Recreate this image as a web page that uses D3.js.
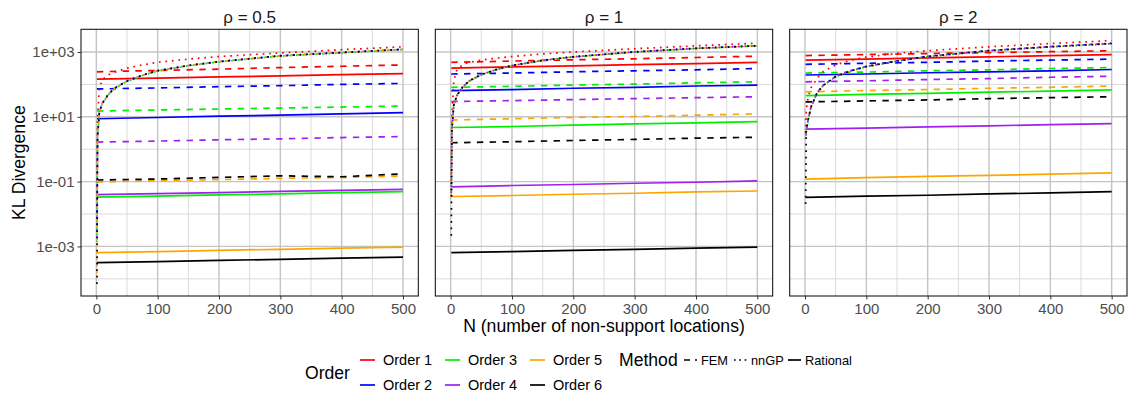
<!DOCTYPE html>
<html>
<head>
<meta charset="utf-8">
<script src="https://cdn.jsdelivr.net/npm/d3@7"></script>
<style>
  body { margin: 0; background: #fff; }
  text { font-family: "Liberation Sans", Arial, sans-serif; }
</style>
</head>
<body>
<div id="chart"></div>
<script>
// ---- data ----
const rhoLabels = ["ρ = 0.5", "ρ = 1", "ρ = 2"];
const orderNames = ["Order 1", "Order 2", "Order 3", "Order 4", "Order 5", "Order 6"];
const methodNames = ["FEM", "nnGP", "Rational"];
const orderColors = ["#ff0000", "#0000ff", "#00ee00", "#a020f0", "#ffa500", "#000000"];
const xTicks = [0, 100, 200, 300, 400, 500];
const yTicks = [1e-3, 1e-1, 1e1, 1e3];
const yTickLabels = ["1e-03", "1e-01", "1e+01", "1e+03"];

// N values used by the (nearly flat) FEM / Rational curves and by nnGP
const nFlat = [1, 100, 200, 300, 400, 500];
const nNngp = [1, 2, 5, 10, 20, 30, 50, 75, 100, 150, 200, 300, 400, 500];

// rho = 0.5  (one row per order)
const rationalRho05 = [
  [145, 155, 170, 182, 200, 214],
  [8.7, 9.5, 10.5, 11.2, 12.3, 13.5],
  [0.0331, 0.0355, 0.0389, 0.0417, 0.0457, 0.0490],
  [0.0398, 0.0427, 0.0457, 0.0501, 0.0537, 0.0575],
  [6.46e-4, 6.92e-4, 7.59e-4, 8.13e-4, 8.91e-4, 9.55e-4],
  [3.16e-4, 3.39e-4, 3.72e-4, 3.98e-4, 4.37e-4, 4.68e-4]
];
const femRho05 = [
  [245, 269, 295, 331, 363, 398],
  [72.4, 77.6, 85.1, 91.2, 100, 107],
  [15.1, 16.2, 17.4, 18.6, 20.0, 21.4],
  [1.66, 1.78, 1.95, 2.09, 2.29, 2.45],
  [0.0977, 0.107, 0.115, 0.126, 0.135, 0.148],
  [0.112, 0.120, 0.135, 0.151, 0.141, 0.174]
];
const nngpRho05 = [
  [1.0e-2, 10, 79, 141, 200, 240, 316, 398, 479, 603, 724, 933, 1175, 1445],
  [2.0e-3, 2.6, 14.4, 26.8, 51.0, 77.2, 128, 194, 267, 385, 508, 768, 966, 1215],
  [1.0e-3, 2.45, 13.9, 25.9, 49.4, 74.8, 124, 188, 259, 375, 494, 750, 944, 1190],
  [5.0e-3, 2.55, 14.2, 26.5, 50.5, 76.5, 127, 192, 265, 383, 505, 764, 960, 1208],
  [1.3e-4, 2.48, 14.0, 26.1, 49.8, 75.3, 125, 190, 261, 378, 498, 755, 950, 1196],
  [6.5e-5, 2.51, 14.1, 26.3, 50.1, 75.9, 126, 191, 263, 380, 501, 759, 955, 1202]
];

// rho = 1
const rationalRho1 = [
  [316, 347, 372, 407, 437, 479],
  [64.6, 69.2, 75.9, 81.3, 89.1, 95.5],
  [4.68, 5.01, 5.50, 6.03, 6.46, 7.08],
  [0.0692, 0.0759, 0.0813, 0.0891, 0.0955, 0.105],
  [0.0347, 0.0372, 0.0407, 0.0437, 0.0479, 0.0513],
  [6.46e-4, 6.92e-4, 7.59e-4, 8.13e-4, 8.91e-4, 9.55e-4]
];
const femRho1 = [
  [479, 525, 575, 617, 676, 741],
  [209, 224, 245, 263, 282, 309],
  [81.3, 87.1, 95.5, 102, 112, 120],
  [29.5, 31.6, 33.9, 36.3, 38.9, 41.7],
  [7.94, 8.71, 9.55, 10.2, 11.2, 12.3],
  [1.58, 1.70, 1.86, 2.00, 2.19, 2.34]
];
const nngpRho1 = [
  [0.1, 10, 126, 282, 417, 479, 562, 646, 724, 871, 1000, 1259, 1549, 1862],
  [0.036, 4.05, 22.8, 45.4, 86.3, 128, 203, 292, 385, 557, 716, 1012, 1302, 1565],
  [0.034, 3.90, 22.0, 44.0, 83.9, 124, 197, 284, 375, 543, 700, 988, 1274, 1532],
  [0.035, 4.02, 22.6, 45.1, 85.8, 127, 202, 290, 383, 554, 712, 1006, 1296, 1558],
  [0.033, 3.94, 22.2, 44.3, 84.4, 125, 198, 286, 377, 546, 704, 994, 1280, 1540],
  [2.0e-3, 3.98, 22.4, 44.7, 85.1, 126, 200, 288, 380, 550, 708, 1000, 1288, 1549]
];

// rho = 2
const rationalRho2 = [
  [562, 603, 661, 708, 776, 832],
  [195, 209, 229, 245, 263, 288],
  [44.7, 49.0, 52.5, 57.5, 61.7, 67.6],
  [4.17, 4.47, 4.90, 5.25, 5.75, 6.17],
  [0.120, 0.132, 0.145, 0.155, 0.170, 0.186],
  [0.0324, 0.0355, 0.0380, 0.0417, 0.0447, 0.0490]
];
const femRho2 = [
  [776, 832, 891, 955, 1023, 1096],
  [417, 447, 479, 525, 562, 603],
  [224, 240, 263, 282, 309, 331],
  [120, 129, 141, 151, 166, 178],
  [58.9, 64.6, 69.2, 75.9, 81.3, 89.1],
  [28.8, 30.9, 33.1, 36.3, 38.9, 41.7]
];
const nngpRho2 = [
  [3.16, 15.8, 39.8, 79.4, 158, 251, 398, 562, 692, 912, 1096, 1445, 1820, 2239],
  [2.1, 3.6, 8.05, 20.7, 57.0, 94.6, 177, 267, 360, 532, 734, 1110, 1465, 1845],
  [1.9, 3.5, 7.82, 20.1, 55.4, 92.0, 171, 259, 350, 518, 714, 1081, 1425, 1795],
  [2.2, 3.58, 8.0, 20.5, 56.6, 94.0, 176, 265, 358, 529, 730, 1104, 1455, 1833],
  [1.8, 3.52, 7.88, 20.2, 55.8, 92.6, 173, 261, 352, 521, 719, 1088, 1435, 1808],
  [0.019, 3.55, 7.94, 20.4, 56.2, 93.3, 174, 263, 355, 525, 724, 1096, 1445, 1820]
];

const panels = [
  { label: rhoLabels[0], fem: femRho05, nngp: nngpRho05, rational: rationalRho05 },
  { label: rhoLabels[1], fem: femRho1, nngp: nngpRho1, rational: rationalRho1 },
  { label: rhoLabels[2], fem: femRho2, nngp: nngpRho2, rational: rationalRho2 }
];

// ---- layout ----
const width = 1133, height = 396;
const plotLeft = 81, plotRight = 1127, gap = 17;
const plotTop = 29.3, plotBottom = 296;
const pw = (plotRight - plotLeft - 2 * gap) / 3;
const lw = 1.7;
const dashes = { FEM: "6.4,6.4", nnGP: "1.7,4.8", Rational: null };
const keyDashes = { FEM: "6,5", nnGP: "1.7,3.6", Rational: null };

const svg = d3.select("#chart")
  .append("svg")
    .attr("width", width)
    .attr("height", height);

const x = d3.scaleLinear().domain([-25, 525]).range([0, pw]);
const y = d3.scaleLog().domain([Math.pow(10, -4.53), Math.pow(10, 3.70)]).range([plotBottom, plotTop]);

const line = d3.line()
  .x(d => x(d[0]))
  .y(d => y(d[1]));

panels.forEach((p, i) => {
  const x0 = plotLeft + i * (pw + gap);
  const g = svg.append("g").attr("transform", `translate(${x0},0)`);

  // minor grid
  g.append("g").selectAll("line")
    .data([50, 150, 250, 350, 450])
    .join("line")
      .attr("x1", d => x(d)).attr("x2", d => x(d))
      .attr("y1", plotTop).attr("y2", plotBottom)
      .attr("stroke", "#d6d6d6").attr("stroke-width", 0.9);
  g.append("g").selectAll("line")
    .data([1e-4, 1e-2, 1, 1e2])
    .join("line")
      .attr("x1", 0).attr("x2", pw)
      .attr("y1", d => y(d)).attr("y2", d => y(d))
      .attr("stroke", "#d6d6d6").attr("stroke-width", 0.9);

  // major grid
  g.append("g").selectAll("line")
    .data(xTicks)
    .join("line")
      .attr("x1", d => x(d)).attr("x2", d => x(d))
      .attr("y1", plotTop).attr("y2", plotBottom)
      .attr("stroke", "#c4c4c4").attr("stroke-width", 1.4);
  g.append("g").selectAll("line")
    .data(yTicks)
    .join("line")
      .attr("x1", 0).attr("x2", pw)
      .attr("y1", d => y(d)).attr("y2", d => y(d))
      .attr("stroke", "#c4c4c4").attr("stroke-width", 1.4);

  // clip
  svg.append("clipPath").attr("id", "clip" + i)
    .append("rect").attr("x", 0).attr("y", plotTop).attr("width", pw).attr("height", plotBottom - plotTop);
  const lines = g.append("g").attr("clip-path", `url(#clip${i})`);

  // series: Rational, FEM, then nnGP on top
  [["Rational", p.rational, nFlat], ["FEM", p.fem, nFlat], ["nnGP", p.nngp, nNngp]]
    .forEach(([method, rows, ns]) => {
      rows.forEach((vals, k) => {
        lines.append("path")
          .datum(ns.map((n, j) => [n, vals[j]]))
          .attr("fill", "none")
          .attr("stroke", orderColors[k])
          .attr("stroke-width", lw)
          .attr("stroke-dasharray", dashes[method])
          .attr("stroke-dashoffset", method === "nnGP" ? k * 1.1 : 0)
          .attr("d", line);
      });
    });

  // border
  g.append("rect")
    .attr("x", 0).attr("y", plotTop).attr("width", pw).attr("height", plotBottom - plotTop)
    .attr("fill", "none").attr("stroke", "#1a1a1a").attr("stroke-width", 1.1);

  // x axis
  const xa = g.append("g")
    .attr("transform", `translate(0,${plotBottom})`)
    .call(d3.axisBottom(x).tickValues(xTicks).tickSize(3.5).tickPadding(3.5));
  xa.select(".domain").remove();
  xa.selectAll("line").attr("stroke", "#333");
  xa.selectAll("text").attr("fill", "#4d4d4d").style("font-size", "15px");

  // y axis only on the first panel
  if (i === 0) {
    const ya = g.append("g")
      .call(d3.axisLeft(y).tickValues(yTicks).tickFormat((d, j) => yTickLabels[j]).tickSize(3.5).tickPadding(3));
    ya.select(".domain").remove();
    ya.selectAll("line").attr("stroke", "#333");
    ya.selectAll("text").attr("fill", "#4d4d4d").style("font-size", "15px");
  }

  // strip label
  g.append("text")
    .attr("x", pw / 2).attr("y", 17)
    .attr("text-anchor", "middle").attr("dominant-baseline", "central")
    .style("font-size", "17px").attr("fill", "#1a1a1a")
    .text(p.label);
});

// axis titles
svg.append("text")
  .attr("x", (plotLeft + plotRight) / 2).attr("y", 326)
  .attr("text-anchor", "middle").attr("dominant-baseline", "central")
  .style("font-size", "17.6px")
  .text("N (number of non-support locations)");

svg.append("text")
  .attr("transform", `translate(19,${(plotTop + plotBottom) / 2}) rotate(-90)`)
  .attr("text-anchor", "middle").attr("dominant-baseline", "central")
  .style("font-size", "17.6px")
  .text("KL Divergence");

// ---- legend ----
const legend = svg.append("g");
legend.append("text")
  .attr("x", 305).attr("y", 373).attr("dominant-baseline", "central")
  .style("font-size", "17.6px").text("Order");

const orderCols = [360, 445, 530];
const rowsY = [360, 385];
orderNames.forEach((name, k) => {
  const cx = orderCols[Math.floor(k / 2)], cy = rowsY[k % 2];
  legend.append("line")
    .attr("x1", cx).attr("x2", cx + 15).attr("y1", cy).attr("y2", cy)
    .attr("stroke", orderColors[k]).attr("stroke-width", lw);
  legend.append("text")
    .attr("x", cx + 23).attr("y", cy).attr("dominant-baseline", "central")
    .style("font-size", "14.5px").text(name);
});

legend.append("text")
  .attr("x", 619).attr("y", 360).attr("dominant-baseline", "central")
  .style("font-size", "17.6px").text("Method");

const methodCols = [684, 734, 788];
methodNames.forEach((name, k) => {
  const cx = methodCols[k];
  legend.append("line")
    .attr("x1", cx).attr("x2", cx + 13).attr("y1", 360).attr("y2", 360)
    .attr("stroke", "#000").attr("stroke-width", lw)
    .attr("stroke-dasharray", keyDashes[name]);
  legend.append("text")
    .attr("x", cx + 17).attr("y", 360).attr("dominant-baseline", "central")
    .style("font-size", "12.8px").text(name);
});
</script>
</body>
</html>
